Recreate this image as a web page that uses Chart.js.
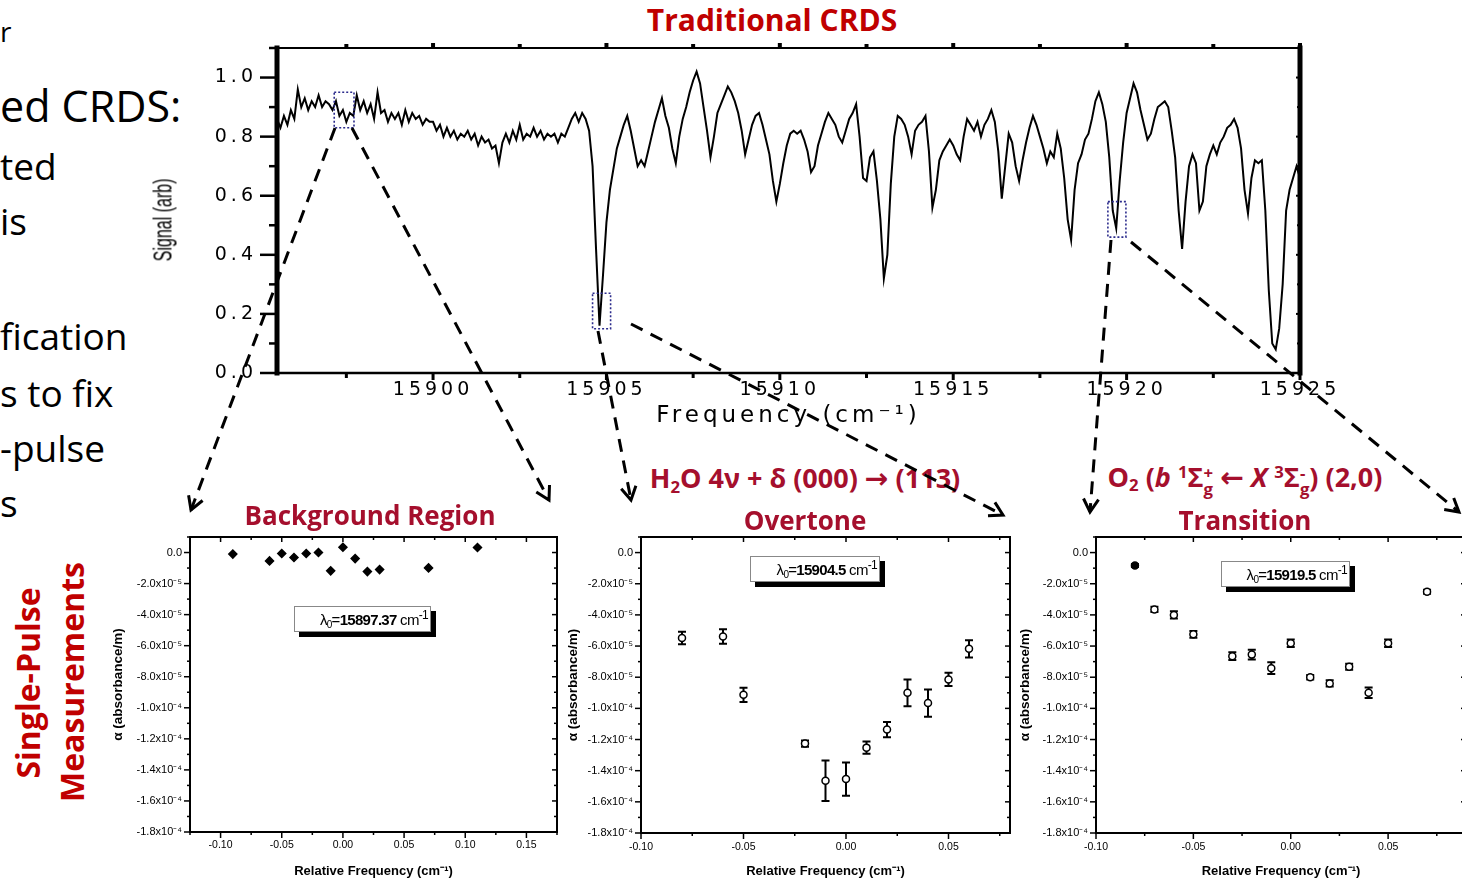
<!DOCTYPE html>
<html>
<head>
    <title>Traditional CRDS and single-pulse measurements</title>
    <script src="https://cdn.jsdelivr.net/npm/chart.js@4.4.1/dist/chart.umd.min.js"></script>
    <style>
        body {
            margin: 0;
            width: 1462px;
            height: 882px;
            overflow: hidden;
            position: relative;
            background: #fff;
        }
        canvas { position: absolute; }
        .bl {
            position: absolute;
            left: 0;
            font-family: 'Open Sans', sans-serif;
            line-height: 1;
            white-space: nowrap;
            color: #000;
        }
        .ttl {
            position: absolute;
            transform: translate(-50%, -50%);
            font-family: 'Open Sans', sans-serif;
            font-weight: bold;
            line-height: 1;
            white-space: nowrap;
            color: #a50f2d;
            font-size: 26px;
        }
        .ttl sub, .ttl sup { font-size: 0.62em; line-height: 0; }
        .ttl sub { vertical-align: -0.28em; }
        .ttl sup { vertical-align: 0.55em; }
        .ttl .arr { font-family: 'DejaVu Sans', sans-serif; font-weight: bold; font-size: 1.05em; }
        .ss {
            display: inline-block;
            font-size: 0.62em;
            line-height: 0.9em;
            vertical-align: -0.45em;
            text-align: left;
        }
        .ss span { display: block; }
        .vert {
            position: absolute;
            transform: translate(-50%, -50%) rotate(-90deg);
            font-family: 'Open Sans', sans-serif;
            font-weight: bold;
            font-size: 32px;
            line-height: 1;
            white-space: nowrap;
            color: #c00000;
        }
        #signalLabel {
            position: absolute;
            left: 163px;
            top: 220px;
            transform: translate(-50%, -50%) rotate(-90deg) scaleX(0.64);
            font-family: 'Liberation Sans', sans-serif;
            font-size: 25px;
            line-height: 1;
            white-space: nowrap;
        }
        .lam {
            position: absolute;
            height: 26px;
            box-sizing: border-box;
            background: #fff;
            border: 1px solid #888;
            box-shadow: 5px 5px 0 #000;
            font-family: 'Liberation Sans', sans-serif;
            font-size: 15px;
            letter-spacing: -0.7px;
            line-height: 25px;
            text-align: right;
            padding-right: 2px;
            white-space: nowrap;
        }
        .lam sub { font-size: 10px; vertical-align: -3px; line-height: 0; }
        .lam sup { font-size: 12px; vertical-align: 6px; line-height: 0; }
        #arrows { position: absolute; left: 0; top: 0; pointer-events: none; }
    </style>
</head>
<body>
    <!-- slide text cut at the left edge -->
    <div class="bl" style="top:17px;font-size:28px">r</div>
    <div class="bl" style="top:84px;font-size:43px">ed CRDS:</div>
    <div class="bl" style="top:147px;font-size:37px">ted</div>
    <div class="bl" style="top:202px;font-size:37px">is</div>
    <div class="bl" style="top:317px;font-size:37px">fication</div>
    <div class="bl" style="top:374px;font-size:37px">s to fix</div>
    <div class="bl" style="top:429px;font-size:37px">-pulse</div>
    <div class="bl" style="top:484px;font-size:37px">s</div>

    <canvas id="specChart" width="1200" height="400" style="left:140px;top:40px"></canvas>
    <canvas id="bgChart" width="470" height="352" style="left:100px;top:530px"></canvas>
    <canvas id="h2oChart" width="460" height="352" style="left:560px;top:530px"></canvas>
    <canvas id="o2Chart" width="470" height="352" style="left:1010px;top:530px"></canvas>

    <div id="signalLabel">Signal (arb)</div>

    <div class="ttl" style="left:772px;top:20px;font-size:30px;color:#c00000">Traditional CRDS</div>
    <div class="ttl" style="left:370px;top:515px">Background Region</div>
    <div class="ttl" style="left:805px;top:479px;font-size:27px">H<sub>2</sub>O 4ν + δ (000) <span class="arr">→</span> (113)</div>
    <div class="ttl" style="left:805px;top:520px">Overtone</div>
    <div class="ttl" style="left:1245px;top:479px;font-size:27px">O<sub>2</sub> (<i>b</i> <sup>1</sup>Σ<span class="ss"><span>+</span><span>g</span></span> <span class="arr">←</span> <i>X</i> <sup>3</sup>Σ<span class="ss"><span>-</span><span>g</span></span>) (2,0)</div>
    <div class="ttl" style="left:1245px;top:520px">Transition</div>

    <div class="vert" style="left:28px;top:683px">Single-Pulse</div>
    <div class="vert" style="left:72px;top:682px">Measurements</div>

    <div class="lam" style="left:294px;top:606px;width:137px">λ<sub>0</sub>=<b>15897.37</b> cm<sup>-1</sup></div>
    <div class="lam" style="left:750px;top:556px;width:130px">λ<sub>0</sub>=<b>15904.5</b> cm<sup>-1</sup></div>
    <div class="lam" style="left:1221px;top:561px;width:129px">λ<sub>0</sub>=<b>15919.5</b> cm<sup>-1</sup></div>

    <svg id="arrows" width="1462" height="882">
        <g stroke="#000" stroke-width="3" fill="none" stroke-dasharray="13 9">
            <path d="M335 128 L191 510"/>
            <path d="M352 128 L549 500"/>
            <path d="M598 331 L631 500"/>
            <path d="M631 324 L1003 515"/>
            <path d="M1111 240 L1090 512"/>
            <path d="M1131 242 L1459 512"/>
        </g>
        <g stroke="#000" stroke-width="3" fill="none">
            <polyline points="202.6,500.5 191,510 188.6,495.2"/>
            <polyline points="549.5,485 549,500 536.3,492"/>
            <polyline points="635.9,485.8 631,500 621.2,488.7"/>
            <polyline points="994.9,502.4 1003,515 988,515.7"/>
            <polyline points="1098.5,499.6 1090,512 1083.5,498.5"/>
            <polyline points="1453.7,498 1459,512 1444.2,509.5"/>
        </g>
    </svg>

    <script>
        // ---- Traditional CRDS spectrum ----
        const specFreq = [
            15895.5, 15895.6, 15895.7, 15895.8, 15895.9,
            15896.0, 15896.1, 15896.2, 15896.3, 15896.4, 15896.5, 15896.6, 15896.7, 15896.8, 15896.9,
            15897.0, 15897.1, 15897.2, 15897.3, 15897.4, 15897.5, 15897.6, 15897.7, 15897.8, 15897.9,
            15898.0, 15898.1, 15898.2, 15898.3, 15898.4, 15898.5, 15898.6, 15898.7, 15898.8, 15898.9,
            15899.0, 15899.1, 15899.2, 15899.3, 15899.4, 15899.5, 15899.6, 15899.7, 15899.8, 15899.9,
            15900.0, 15900.1, 15900.2, 15900.3, 15900.4, 15900.5, 15900.6, 15900.7, 15900.8, 15900.9,
            15901.0, 15901.1, 15901.2, 15901.3, 15901.4, 15901.5, 15901.6, 15901.7, 15901.8, 15901.9,
            15902.0, 15902.1, 15902.2, 15902.3, 15902.4, 15902.5, 15902.6, 15902.7, 15902.8, 15902.9,
            15903.0, 15903.1, 15903.2, 15903.3, 15903.4, 15903.5, 15903.6, 15903.7, 15903.8, 15903.9,
            15904.0, 15904.1, 15904.2, 15904.3, 15904.4, 15904.5, 15904.6, 15904.7, 15904.8, 15904.9,
            15905.0, 15905.1, 15905.2, 15905.3, 15905.4, 15905.5, 15905.6, 15905.7, 15905.8, 15905.9,
            15906.0, 15906.1, 15906.2, 15906.3, 15906.4, 15906.5, 15906.6, 15906.7, 15906.8, 15906.9,
            15907.0, 15907.1, 15907.2, 15907.3, 15907.4, 15907.5, 15907.6, 15907.7, 15907.8, 15907.9,
            15908.0, 15908.1, 15908.2, 15908.3, 15908.4, 15908.5, 15908.6, 15908.7, 15908.8, 15908.9,
            15909.0, 15909.1, 15909.2, 15909.3, 15909.4, 15909.5, 15909.6, 15909.7, 15909.8, 15909.9,
            15910.0, 15910.1, 15910.2, 15910.3, 15910.4, 15910.5, 15910.6, 15910.7, 15910.8, 15910.9,
            15911.0, 15911.1, 15911.2, 15911.3, 15911.4, 15911.5, 15911.6, 15911.7, 15911.8, 15911.9,
            15912.0, 15912.1, 15912.2, 15912.3, 15912.4, 15912.5, 15912.6, 15912.7, 15912.8, 15912.9,
            15913.0, 15913.1, 15913.2, 15913.3, 15913.4, 15913.5, 15913.6, 15913.7, 15913.8, 15913.9,
            15914.0, 15914.1, 15914.2, 15914.3, 15914.4, 15914.5, 15914.6, 15914.7, 15914.8, 15914.9,
            15915.0, 15915.1, 15915.2, 15915.3, 15915.4, 15915.5, 15915.6, 15915.7, 15915.8, 15915.9,
            15916.0, 15916.1, 15916.2, 15916.3, 15916.4, 15916.5, 15916.6, 15916.7, 15916.8, 15916.9,
            15917.0, 15917.1, 15917.2, 15917.3, 15917.4, 15917.5, 15917.6, 15917.7, 15917.8, 15917.9,
            15918.0, 15918.1, 15918.2, 15918.3, 15918.4, 15918.5, 15918.6, 15918.7, 15918.8, 15918.9,
            15919.0, 15919.1, 15919.2, 15919.3, 15919.4, 15919.5, 15919.6, 15919.7, 15919.8, 15919.9,
            15920.0, 15920.1, 15920.2, 15920.3, 15920.4, 15920.5, 15920.6, 15920.7, 15920.8, 15920.9,
            15921.0, 15921.1, 15921.2, 15921.3, 15921.4, 15921.5, 15921.6, 15921.7, 15921.8, 15921.9,
            15922.0, 15922.1, 15922.2, 15922.3, 15922.4, 15922.5, 15922.6, 15922.7, 15922.8, 15922.9,
            15923.0, 15923.1, 15923.2, 15923.3, 15923.4, 15923.5, 15923.6, 15923.7, 15923.8, 15923.9,
            15924.0, 15924.1, 15924.2, 15924.3, 15924.4, 15924.5, 15924.6, 15924.7, 15924.8, 15924.9,
            15925.0
        ];
        const specSignal = [
            0.86, 0.83, 0.87, 0.84, 0.89,
            0.86, 0.96, 0.90, 0.93, 0.89, 0.92, 0.90, 0.94, 0.90, 0.92,
            0.91, 0.89, 0.92, 0.87, 0.89, 0.85, 0.88, 0.87, 0.94, 0.89,
            0.92, 0.88, 0.91, 0.86, 0.95, 0.88, 0.89, 0.85, 0.88, 0.86,
            0.88, 0.84, 0.89, 0.85, 0.88, 0.86, 0.87, 0.84, 0.86, 0.85,
            0.85, 0.82, 0.84, 0.80, 0.83, 0.80, 0.82, 0.79, 0.81, 0.80,
            0.82, 0.79, 0.81, 0.77, 0.80, 0.78, 0.79, 0.76, 0.77, 0.71,
            0.78, 0.81, 0.78, 0.82, 0.79, 0.84, 0.79, 0.81, 0.80, 0.83,
            0.80, 0.82, 0.79, 0.81, 0.80, 0.81, 0.78, 0.81, 0.80, 0.83,
            0.86, 0.88, 0.85, 0.88, 0.86, 0.82, 0.70, 0.42, 0.16, 0.33,
            0.51, 0.62, 0.69, 0.76, 0.80, 0.84, 0.87, 0.82, 0.76, 0.70,
            0.72, 0.70, 0.75, 0.80, 0.85, 0.89, 0.93, 0.87, 0.83, 0.76,
            0.71, 0.80, 0.86, 0.90, 0.95, 0.99, 1.02, 0.98, 0.90, 0.82,
            0.73, 0.80, 0.88, 0.91, 0.94, 0.97, 0.95, 0.92, 0.88, 0.82,
            0.74, 0.79, 0.84, 0.87, 0.88, 0.84, 0.79, 0.74, 0.65, 0.58,
            0.64, 0.71, 0.77, 0.81, 0.82, 0.81, 0.82, 0.79, 0.75, 0.68,
            0.70, 0.77, 0.81, 0.85, 0.88, 0.86, 0.84, 0.80, 0.78, 0.82,
            0.86, 0.88, 0.91, 0.80, 0.66, 0.65, 0.73, 0.75, 0.65, 0.52,
            0.32, 0.40, 0.64, 0.80, 0.87, 0.86, 0.84, 0.80, 0.74, 0.82,
            0.84, 0.85, 0.87, 0.75, 0.56, 0.62, 0.72, 0.75, 0.77, 0.79,
            0.77, 0.74, 0.72, 0.80, 0.86, 0.84, 0.82, 0.85, 0.80, 0.84,
            0.86, 0.89, 0.85, 0.75, 0.59, 0.70, 0.81, 0.78, 0.70, 0.65,
            0.72, 0.78, 0.83, 0.87, 0.84, 0.80, 0.76, 0.71, 0.75, 0.73,
            0.81, 0.76, 0.66, 0.52, 0.45, 0.62, 0.71, 0.74, 0.79, 0.81,
            0.86, 0.92, 0.95, 0.91, 0.85, 0.73, 0.55, 0.49, 0.65, 0.78,
            0.88, 0.93, 0.98, 0.95, 0.89, 0.84, 0.79, 0.81, 0.86, 0.90,
            0.91, 0.92, 0.90, 0.82, 0.73, 0.55, 0.42, 0.58, 0.70, 0.74,
            0.71, 0.55, 0.58, 0.70, 0.74, 0.77, 0.74, 0.78, 0.80, 0.83,
            0.84, 0.86, 0.83, 0.76, 0.62, 0.54, 0.66, 0.72, 0.71, 0.72,
            0.55, 0.28, 0.10, 0.08, 0.15, 0.30, 0.55, 0.62, 0.66, 0.70,
            0.66
        ];
        const specFreqTicks = [15900, 15905, 15910, 15915, 15920, 15925];
        const signalTicks = [0, 0.2, 0.4, 0.6, 0.8, 1.0];

        // ---- single-pulse measurements ----
        const bgFreq = [-0.09, -0.06, -0.05, -0.04, -0.03, -0.02, -0.01, 0.00, 0.01, 0.02, 0.03, 0.07, 0.11];
        const bgAlpha = [-1.0e-6, -5.4e-6, -6e-7, -3.2e-6, -6e-7, 0, -1.18e-5, 3.4e-6, -3.9e-6, -1.23e-5, -1.10e-5, -9.9e-6, 3.2e-6];

        const h2oFreq = [-0.08, -0.06, -0.05, -0.02, -0.01, 0.00, 0.01, 0.02, 0.03, 0.04, 0.05, 0.06];
        const h2oAlpha = [-5.48e-5, -5.39e-5, -9.13e-5, -1.226e-4, -1.465e-4, -1.454e-4, -1.252e-4, -1.136e-4, -9.00e-5, -9.66e-5, -8.14e-5, -6.18e-5];
        const h2oErr = [4.0e-6, 4.7e-6, 4.6e-6, 2.0e-6, 1.30e-5, 1.07e-5, 4.0e-6, 4.9e-6, 8.6e-6, 8.7e-6, 4.2e-6, 5.5e-6];

        const o2Freq = [-0.08, -0.07, -0.06, -0.05, -0.03, -0.02, -0.01, 0.00, 0.01, 0.02, 0.03, 0.04, 0.05, 0.07];
        const o2Alpha = [-8.3e-6, -3.65e-5, -4.00e-5, -5.25e-5, -6.65e-5, -6.55e-5, -7.42e-5, -5.82e-5, -8.00e-5, -8.40e-5, -7.33e-5, -9.00e-5, -5.82e-5, -2.52e-5];
        const o2Err = [1.0e-6, 1.7e-6, 2.3e-6, 2.1e-6, 2.5e-6, 3.2e-6, 3.8e-6, 2.4e-6, 1.4e-6, 2.0e-6, 1.9e-6, 3.4e-6, 2.4e-6, 1.3e-6];

        const alphaTicks = [-1.8e-4, -1.6e-4, -1.4e-4, -1.2e-4, -1.0e-4, -8e-5, -6e-5, -4e-5, -2e-5, 0];
        const alphaTickLabels = ['-1.8x10⁻⁴', '-1.6x10⁻⁴', '-1.4x10⁻⁴', '-1.2x10⁻⁴', '-1.0x10⁻⁴',
                                 '-8.0x10⁻⁵', '-6.0x10⁻⁵', '-4.0x10⁻⁵', '-2.0x10⁻⁵', '0.0'];
        const bgFreqTicks = [-0.10, -0.05, 0.00, 0.05, 0.10, 0.15];
        const relFreqTicks = [-0.10, -0.05, 0.00, 0.05];

        Chart.defaults.font.family = "'Liberation Sans', Arial, sans-serif";
        Chart.defaults.color = '#000';

        // box frame with origin-style ticks on all four sides
        function framePlugin(cfg) {
            return {
                id: 'frame',
                afterDraw(chart) {
                    const { ctx, chartArea: a, scales } = chart;
                    const sides = [
                        ['left', a.left, a.top, a.left, a.bottom],
                        ['right', a.right, a.top, a.right, a.bottom],
                        ['top', a.left, a.top, a.right, a.top],
                        ['bottom', a.left, a.bottom, a.right, a.bottom]
                    ];
                    ctx.save();
                    ctx.strokeStyle = '#000';
                    sides.forEach(([name, x1, y1, x2, y2]) => {
                        const sd = cfg[name];
                        ctx.lineCap = 'square';
                        ctx.lineWidth = sd.lw;
                        ctx.beginPath();
                        ctx.moveTo(x1, y1);
                        ctx.lineTo(x2, y2);
                        ctx.stroke();

                        const vertical = name === 'left' || name === 'right';
                        const scale = vertical ? scales.y : scales.x;
                        const step = vertical ? cfg.yStep : cfg.xStep;
                        const sign = (name === 'left' || name === 'top') ? -1 : 1;
                        const dir = sd.out ? sign : -sign;
                        ctx.lineCap = 'butt';
                        ctx.lineWidth = sd.tw;
                        const n0 = Math.ceil(scale.min / step[1] - 1e-6);
                        const n1 = Math.floor(scale.max / step[1] + 1e-6);
                        for (let n = n0; n <= n1; n++) {
                            const v = n * step[1];
                            const r = v / step[0];
                            const len = Math.abs(r - Math.round(r)) < 1e-6 ? sd.len[0] : sd.len[1];
                            const p = scale.getPixelForValue(v);
                            ctx.beginPath();
                            if (vertical) {
                                ctx.moveTo(x1, p);
                                ctx.lineTo(x1 + dir * len, p);
                            } else {
                                ctx.moveTo(p, y1);
                                ctx.lineTo(p, y1 + dir * len);
                            }
                            ctx.stroke();
                        }
                    });
                    ctx.restore();
                }
            };
        }

        const errorBarPlugin = {
            id: 'errorBars',
            beforeDatasetsDraw(chart) {
                const { ctx } = chart;
                const ys = chart.scales.y;
                chart.data.datasets.forEach((ds, i) => {
                    if (!ds.errorBars) return;
                    const meta = chart.getDatasetMeta(i);
                    ctx.save();
                    ctx.strokeStyle = '#000';
                    ctx.lineWidth = 2;
                    meta.data.forEach((pt, j) => {
                        const v = ds.data[j].y;
                        const e = ds.errorBars[j];
                        const y1 = ys.getPixelForValue(v + e);
                        const y2 = ys.getPixelForValue(v - e);
                        ctx.beginPath();
                        ctx.moveTo(pt.x, y1); ctx.lineTo(pt.x, y2);
                        ctx.moveTo(pt.x - 4, y1); ctx.lineTo(pt.x + 4, y1);
                        ctx.moveTo(pt.x - 4, y2); ctx.lineTo(pt.x + 4, y2);
                        ctx.stroke();
                    });
                    ctx.restore();
                });
            }
        };

        // dotted boxes marking the zoomed regions
        const zoomBoxPlugin = {
            id: 'zoomBoxes',
            afterDatasetsDraw(chart) {
                const { ctx } = chart;
                const xs = chart.scales.x, ys = chart.scales.y;
                const boxes = [[15897.15, 15897.72, 0.83, 0.95], [15904.6, 15905.12, 0.15, 0.27], [15919.46, 15919.98, 0.46, 0.58]];
                ctx.save();
                ctx.strokeStyle = '#2b2b8c';
                ctx.lineWidth = 1.6;
                ctx.setLineDash([2, 2]);
                boxes.forEach(b => {
                    const l = xs.getPixelForValue(b[0]), r = xs.getPixelForValue(b[1]);
                    const t = ys.getPixelForValue(b[3]), bt = ys.getPixelForValue(b[2]);
                    ctx.strokeRect(l, t, r - l, bt - t);
                });
                ctx.restore();
            }
        };

        const wideText = {
            id: 'wideText',
            beforeDraw(chart) { chart.ctx.letterSpacing = '4px'; }
        };

        new Chart(document.getElementById('specChart'), {
            type: 'scatter',
            data: {
                datasets: [{
                    data: specFreq.map((f, i) => ({ x: f, y: specSignal[i] })),
                    showLine: true,
                    borderColor: '#000',
                    borderWidth: 2,
                    pointRadius: 0
                }]
            },
            options: {
                responsive: false,
                animation: false,
                events: [],
                layout: { padding: { top: 8, right: 40, left: 0, bottom: 0 } },
                plugins: { legend: { display: false }, tooltip: { enabled: false } },
                scales: {
                    x: {
                        type: 'linear', min: 15895.5, max: 15925,
                        afterBuildTicks: s => { s.ticks = specFreqTicks.map(v => ({ value: v })); },
                        afterFit: s => { s.height = 67; s.paddingLeft = 0; s.paddingRight = 0; },
                        grid: { display: false, drawTicks: false },
                        border: { display: false },
                        ticks: {
                            autoSkip: false, maxRotation: 0, padding: 6,
                            font: { family: "'DejaVu Sans'", size: 19 },
                            callback: v => String(v)
                        },
                        title: {
                            display: true, text: 'Frequency (cm⁻¹)',
                            font: { family: "'DejaVu Sans'", size: 23 },
                            padding: { top: 0, bottom: 10 }
                        }
                    },
                    y: {
                        type: 'linear', min: 0, max: 1.1,
                        afterBuildTicks: s => { s.ticks = signalTicks.map(v => ({ value: v })); },
                        afterFit: s => { s.width = 137; s.paddingTop = 0; s.paddingBottom = 0; },
                        grid: { display: false, drawTicks: false },
                        border: { display: false },
                        ticks: {
                            autoSkip: false, padding: 20,
                            font: { family: "'DejaVu Sans'", size: 19 },
                            callback: v => v.toFixed(1)
                        }
                    }
                }
            },
            plugins: [wideText, zoomBoxPlugin, framePlugin({
                xStep: [5, 2.5], yStep: [0.2, 0.1],
                left: { lw: 5, tw: 2.5, out: true, len: [17, 8] },
                right: { lw: 5, tw: 2, out: false, len: [4, 3] },
                top: { lw: 2, tw: 4, out: true, len: [5, 4] },
                bottom: { lw: 2.5, tw: 3, out: true, len: [7, 5] }
            })]
        });

        function alphaChart(id, cfg) {
            return new Chart(document.getElementById(id), {
                type: 'scatter',
                data: {
                    datasets: [{
                        data: cfg.freq.map((f, i) => ({ x: f, y: cfg.alpha[i] })),
                        errorBars: cfg.err,
                        pointStyle: cfg.pointStyle,
                        pointRadius: cfg.radius,
                        backgroundColor: cfg.fill,
                        borderColor: '#000',
                        borderWidth: 1.5
                    }]
                },
                options: {
                    responsive: false,
                    animation: false,
                    events: [],
                    layout: { padding: { top: 7, right: cfg.padRight, left: 0, bottom: 0 } },
                    plugins: { legend: { display: false }, tooltip: { enabled: false } },
                    scales: {
                        x: {
                            type: 'linear', min: cfg.xMin, max: cfg.xMax,
                            afterBuildTicks: s => { s.ticks = cfg.xTicks.map(v => ({ value: v })); },
                            afterFit: s => { s.height = cfg.xHeight; s.paddingLeft = 0; s.paddingRight = 0; },
                            grid: { display: false, drawTicks: false },
                            border: { display: false },
                            ticks: {
                                autoSkip: false, maxRotation: 0, padding: cfg.xPad,
                                font: { size: 10.5 },
                                callback: v => v.toFixed(2)
                            },
                            title: {
                                display: true, text: 'Relative Frequency (cm⁻¹)',
                                font: { size: 13, weight: 'bold' },
                                padding: { top: 0, bottom: 3 }
                            }
                        },
                        y: {
                            type: 'linear', min: -1.8e-4, max: 1.0e-5,
                            afterBuildTicks: s => { s.ticks = alphaTicks.map(v => ({ value: v })); },
                            afterFit: s => { s.width = cfg.yWidth; s.paddingTop = 0; s.paddingBottom = 0; },
                            grid: { display: false, drawTicks: false },
                            border: { display: false },
                            ticks: {
                                autoSkip: false, padding: 8,
                                font: { size: 11 },
                                callback: (v, i) => alphaTickLabels[i]
                            },
                            title: {
                                display: true, text: 'α (absorbance/m)',
                                font: { size: 13.5, weight: 'bold' },
                                padding: { top: cfg.yTitlePad, bottom: 0 }
                            }
                        }
                    }
                },
                plugins: [errorBarPlugin, framePlugin({
                    xStep: [0.05, 0.025], yStep: [2e-5, 1e-5],
                    left: { lw: 2, tw: 1.5, out: true, len: [6, 3] },
                    right: { lw: 2, tw: 1.5, out: false, len: [5, 3] },
                    top: { lw: 2, tw: 1.5, out: false, len: [5, 3] },
                    bottom: { lw: 2, tw: 1.5, out: true, len: [6, 3] }
                })]
            });
        }

        alphaChart('bgChart', {
            freq: bgFreq, alpha: bgAlpha, err: null,
            pointStyle: 'rectRot', radius: 4, fill: '#000',
            xMin: -0.125, xMax: 0.175, xTicks: bgFreqTicks,
            yWidth: 90, yTitlePad: 10, xHeight: 50, xPad: 7, padRight: 13
        });
        alphaChart('h2oChart', {
            freq: h2oFreq, alpha: h2oAlpha, err: h2oErr,
            pointStyle: 'circle', radius: 3.5, fill: '#fff',
            xMin: -0.10, xMax: 0.08, xTicks: relFreqTicks,
            yWidth: 81, yTitlePad: 5, xHeight: 49, xPad: 8, padRight: 10
        });
        alphaChart('o2Chart', {
            freq: o2Freq, alpha: o2Alpha, err: o2Err,
            pointStyle: 'circle', radius: 3.5,
            fill: ['#000', '#fff', '#fff', '#fff', '#fff', '#fff', '#fff', '#fff', '#fff', '#fff', '#fff', '#fff', '#fff', '#fff'],
            xMin: -0.10, xMax: 0.09, xTicks: relFreqTicks,
            yWidth: 86, yTitlePad: 7, xHeight: 49, xPad: 8, padRight: 14
        });
    </script>
</body>
</html>
